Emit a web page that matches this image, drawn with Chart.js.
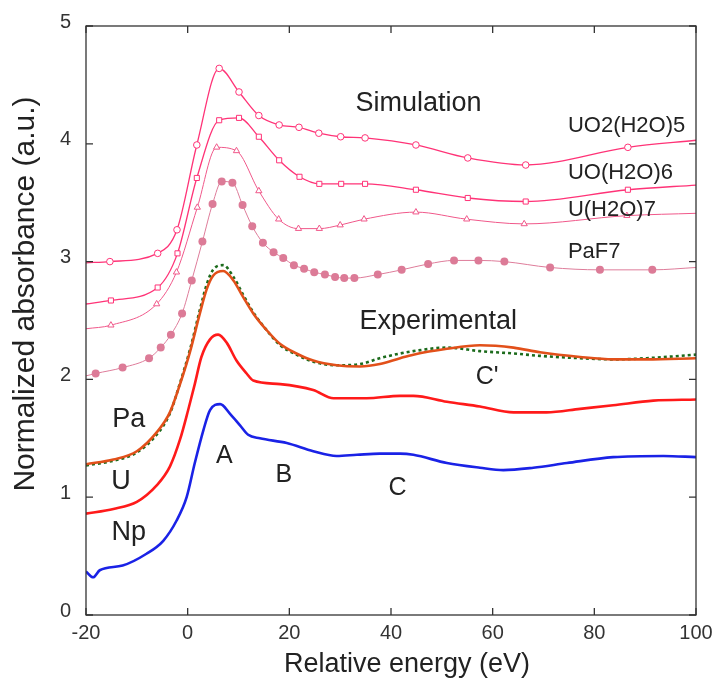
<!DOCTYPE html>
<html>
<head>
<meta charset="utf-8">
<script src="https://cdn.jsdelivr.net/npm/chart.js@4.4.0/dist/chart.umd.min.js"></script>
<style>
  body { margin: 0; background: #fff; }
  #wrap { width: 716px; height: 679px; }
</style>
</head>
<body>
<div id="wrap"><canvas id="myChart" width="716" height="679"></canvas></div>
<script>
// simulated spectra (markers on each read point, line ends at -20 / 100)
const uo2E = [-20, -15.3, -5.9, -2.1, 1.8, 6.2, 10.1, 14.0, 18.0, 21.9, 25.8, 30.1, 34.9, 44.9, 55.1, 66.5, 86.6, 100];
const uo2A = [2.99, 3.00, 3.07, 3.27, 3.99, 4.64, 4.44, 4.24, 4.16, 4.14, 4.09, 4.06, 4.05, 3.99, 3.88, 3.82, 3.97, 4.03];

const uoE = [-20, -15.1, -5.9, -2.0, 1.8, 6.2, 10.1, 14.0, 18.0, 22.0, 25.9, 30.2, 34.9, 44.9, 55.1, 66.5, 86.6, 100];
const uoA = [2.64, 2.67, 2.78, 3.07, 3.71, 4.20, 4.22, 4.06, 3.86, 3.72, 3.66, 3.66, 3.66, 3.61, 3.54, 3.51, 3.61, 3.65];

const uwE = [-20, -15.1, -6.1, -2.2, 1.9, 5.7, 9.6, 14.0, 17.9, 21.8, 25.9, 30.0, 34.7, 44.9, 54.9, 66.2, 86.4, 100];
const uwA = [2.43, 2.46, 2.64, 2.91, 3.46, 3.97, 3.94, 3.60, 3.36, 3.28, 3.28, 3.31, 3.36, 3.42, 3.36, 3.32, 3.39, 3.41];

const pafE = [-20, -18.1, -12.8, -7.6, -5.3, -3.3, -1.1, 0.8, 2.9, 4.9, 6.7, 8.8, 10.8, 12.7, 14.8, 16.9, 18.8, 20.9, 22.9, 24.9, 27.0, 29.0, 30.8, 32.8, 37.4, 42.1, 47.3, 52.4, 57.2, 62.3, 71.3, 81.1, 91.4, 100];
const pafA = [2.03, 2.05, 2.10, 2.18, 2.27, 2.38, 2.56, 2.84, 3.17, 3.49, 3.68, 3.67, 3.48, 3.30, 3.16, 3.08, 3.03, 2.97, 2.94, 2.91, 2.89, 2.87, 2.86, 2.86, 2.89, 2.93, 2.98, 3.01, 3.01, 3.00, 2.95, 2.93, 2.93, 2.95];

// experimental spectra
const paE = [-20, -14.6, -10.0, -6.1, -3.5, -1.5, 0.5, 2.4, 3.7, 5.0, 7.0, 9.0, 10.9, 12.9, 15.5, 18.2, 21.4, 24.7, 29.3, 33.9, 37.8, 41.8, 44.4, 51.0, 57.5, 64.1, 69.3, 77.2, 83.7, 90.3, 100];
const paA = [1.28, 1.32, 1.39, 1.55, 1.72, 1.96, 2.24, 2.56, 2.76, 2.88, 2.92, 2.84, 2.70, 2.56, 2.42, 2.30, 2.22, 2.16, 2.12, 2.11, 2.13, 2.18, 2.21, 2.26, 2.29, 2.27, 2.23, 2.19, 2.17, 2.17, 2.18];
const paDotA = [1.27, 1.31, 1.38, 1.53, 1.71, 1.97, 2.26, 2.59, 2.80, 2.93, 2.97, 2.87, 2.72, 2.57, 2.42, 2.29, 2.21, 2.15, 2.12, 2.13, 2.18, 2.22, 2.24, 2.27, 2.24, 2.22, 2.20, 2.18, 2.17, 2.18, 2.21];

const uE = [-20, -14.6, -10.0, -6.1, -3.5, -1.5, 0.1, 1.4, 2.7, 4.4, 6.0, 7.7, 9.6, 11.6, 12.9, 18.2, 24.7, 28.7, 35.2, 41.8, 44.4, 51.0, 57.5, 64.1, 70.6, 77.2, 83.7, 91.6, 100];
const uA = [0.86, 0.90, 0.96, 1.10, 1.26, 1.49, 1.74, 1.96, 2.19, 2.34, 2.38, 2.31, 2.16, 2.05, 1.99, 1.96, 1.91, 1.84, 1.84, 1.86, 1.86, 1.81, 1.77, 1.72, 1.72, 1.75, 1.78, 1.82, 1.83];

const npE = [-20, -18.6, -17.3, -12.8, -8.1, -4.8, -2.2, -0.2, 1.4, 3.1, 4.4, 6.4, 8.3, 10.3, 11.9, 14.2, 19.5, 24.7, 29.3, 33.3, 37.8, 41.8, 44.4, 51.0, 57.5, 62.1, 68.0, 74.6, 83.7, 93.6, 100];
const npA = [0.37, 0.32, 0.38, 0.42, 0.52, 0.63, 0.80, 1.00, 1.29, 1.57, 1.74, 1.79, 1.71, 1.61, 1.53, 1.50, 1.46, 1.39, 1.35, 1.36, 1.37, 1.37, 1.36, 1.29, 1.25, 1.23, 1.25, 1.29, 1.34, 1.35, 1.34];

const xTicks = [-20, 0, 20, 40, 60, 80, 100];
const yTicks = [0, 1, 2, 3, 4, 5];

// text labels placed in data coordinates
const notes = [
  { text: 'Simulation', x: 45.4, y: 4.34, size: 27, align: 'center' },
  { text: 'Experimental', x: 49.3, y: 2.49, size: 27, align: 'center' },
  { text: 'UO2(H2O)5', x: 74.8, y: 4.15, size: 22, align: 'left' },
  { text: 'UO(H2O)6', x: 74.8, y: 3.75, size: 22, align: 'left' },
  { text: 'U(H2O)7', x: 74.8, y: 3.44, size: 22, align: 'left' },
  { text: 'PaF7', x: 74.8, y: 3.08, size: 22, align: 'left' },
  { text: "C'", x: 58.9, y: 2.02, size: 25, align: 'center' },
  { text: 'Pa', x: -11.6, y: 1.66, size: 27, align: 'center' },
  { text: 'U', x: -13.1, y: 1.13, size: 27, align: 'center' },
  { text: 'Np', x: -11.6, y: 0.70, size: 27, align: 'center' },
  { text: 'A', x: 7.2, y: 1.35, size: 25, align: 'center' },
  { text: 'B', x: 18.9, y: 1.19, size: 25, align: 'center' },
  { text: 'C', x: 41.3, y: 1.08, size: 25, align: 'center' }
];

function pts(xs, ys) {
  return xs.map((x, i) => ({ x: x, y: ys[i] }));
}

function innerMarks(r) {
  return ctx => {
    const n = ctx.dataset.data.length;
    return (ctx.dataIndex === 0 || ctx.dataIndex === n - 1) ? 0 : r;
  };
}

const FONT = '"Liberation Sans", Arial, Helvetica, sans-serif';

const framePlugin = {
  id: 'frame',
  afterDraw(chart) {
    const c = chart.ctx;
    const a = chart.chartArea;
    const xs = chart.scales.x, ys = chart.scales.y;
    c.save();
    c.strokeStyle = '#333';
    c.lineWidth = 1.3;
    c.strokeRect(a.left, a.top, a.right - a.left, a.bottom - a.top);
    const t = 7;
    c.beginPath();
    xTicks.forEach(v => {
      const px = xs.getPixelForValue(v);
      c.moveTo(px, a.bottom); c.lineTo(px, a.bottom - t);
      c.moveTo(px, a.top); c.lineTo(px, a.top + t);
    });
    yTicks.forEach(v => {
      const py = ys.getPixelForValue(v);
      c.moveTo(a.left, py); c.lineTo(a.left + t, py);
      c.moveTo(a.right, py); c.lineTo(a.right - t, py);
    });
    c.stroke();

    c.fillStyle = '#222';
    c.textBaseline = 'middle';
    notes.forEach(n => {
      c.font = n.size + 'px ' + FONT;
      c.textAlign = n.align;
      c.fillText(n.text, xs.getPixelForValue(n.x), ys.getPixelForValue(n.y));
    });

    c.textAlign = 'center';
    c.font = '27px ' + FONT;
    c.fillText('Relative energy (eV)', 407, 665);
    c.font = '30px ' + FONT;
    c.translate(26, 294);
    c.rotate(-Math.PI / 2);
    c.fillText('Normalized absorbance (a.u.)', 0, 0);
    c.restore();
  }
};

const ctx = document.getElementById('myChart');

new Chart(ctx, {
  type: 'scatter',
  data: {
    datasets: [
      {
        label: 'UO2(H2O)5',
        data: pts(uo2E, uo2A),
        showLine: true,
        borderColor: '#ff3377',
        borderWidth: 1.3,
        pointStyle: 'circle',
        pointRadius: innerMarks(3.3),
        pointBackgroundColor: '#fff',
        pointBorderColor: '#ff3377',
        pointBorderWidth: 1,
        cubicInterpolationMode: 'monotone'
      },
      {
        label: 'UO(H2O)6',
        data: pts(uoE, uoA),
        showLine: true,
        borderColor: '#ff3377',
        borderWidth: 1.3,
        pointStyle: 'rect',
        pointRadius: innerMarks(3.6),
        pointBackgroundColor: '#fff',
        pointBorderColor: '#ff3377',
        pointBorderWidth: 1,
        cubicInterpolationMode: 'monotone'
      },
      {
        label: 'U(H2O)7',
        data: pts(uwE, uwA),
        showLine: true,
        borderColor: '#f0588a',
        borderWidth: 1,
        pointStyle: 'triangle',
        pointRadius: innerMarks(3.6),
        pointBackgroundColor: '#fff',
        pointBorderColor: '#f0588a',
        pointBorderWidth: 1,
        cubicInterpolationMode: 'monotone'
      },
      {
        label: 'PaF7',
        data: pts(pafE, pafA),
        showLine: true,
        borderColor: '#de7c9a',
        borderWidth: 1,
        pointStyle: 'circle',
        pointRadius: innerMarks(4),
        pointBackgroundColor: '#dc7b97',
        pointBorderColor: '#dc7b97',
        pointBorderWidth: 0,
        cubicInterpolationMode: 'monotone'
      },
      {
        label: 'Pa',
        data: pts(paE, paA),
        showLine: true,
        borderColor: '#e2501a',
        borderWidth: 2.6,
        pointRadius: 0,
        cubicInterpolationMode: 'monotone'
      },
      {
        label: 'Pa (dotted)',
        data: pts(paE, paDotA),
        showLine: true,
        borderColor: '#1c6b1c',
        borderWidth: 2.6,
        borderDash: [3, 3],
        pointRadius: 0,
        cubicInterpolationMode: 'monotone'
      },
      {
        label: 'U',
        data: pts(uE, uA),
        showLine: true,
        borderColor: '#ff1a1a',
        borderWidth: 2.6,
        pointRadius: 0,
        cubicInterpolationMode: 'monotone'
      },
      {
        label: 'Np',
        data: pts(npE, npA),
        showLine: true,
        borderColor: '#1a22e6',
        borderWidth: 2.6,
        pointRadius: 0,
        cubicInterpolationMode: 'monotone'
      }
    ]
  },
  options: {
    responsive: false,
    animation: false,
    layout: { padding: { top: 26, right: 20, left: 0, bottom: 0 } },
    plugins: {
      legend: { display: false },
      tooltip: { enabled: false }
    },
    scales: {
      x: {
        type: 'linear',
        min: -20, max: 100,
        afterBuildTicks: s => { s.ticks = xTicks.map(v => ({ value: v })); },
        afterFit: s => { s.height = 64; s.paddingLeft = 0; s.paddingRight = 0; },
        grid: { display: false, drawTicks: false },
        border: { display: false },
        ticks: { color: '#333', font: { size: 20, family: FONT }, padding: 6, maxRotation: 0 }
      },
      y: {
        type: 'linear',
        min: 0, max: 5,
        afterBuildTicks: s => { s.ticks = yTicks.map(v => ({ value: v })); },
        afterFit: s => { s.width = 86; s.paddingTop = 0; s.paddingBottom = 0; },
        grid: { display: false, drawTicks: false },
        border: { display: false },
        ticks: { color: '#333', font: { size: 20, family: FONT }, padding: 15, labelOffset: -4 }
      }
    }
  },
  plugins: [framePlugin]
});
</script>
</body>
</html>
